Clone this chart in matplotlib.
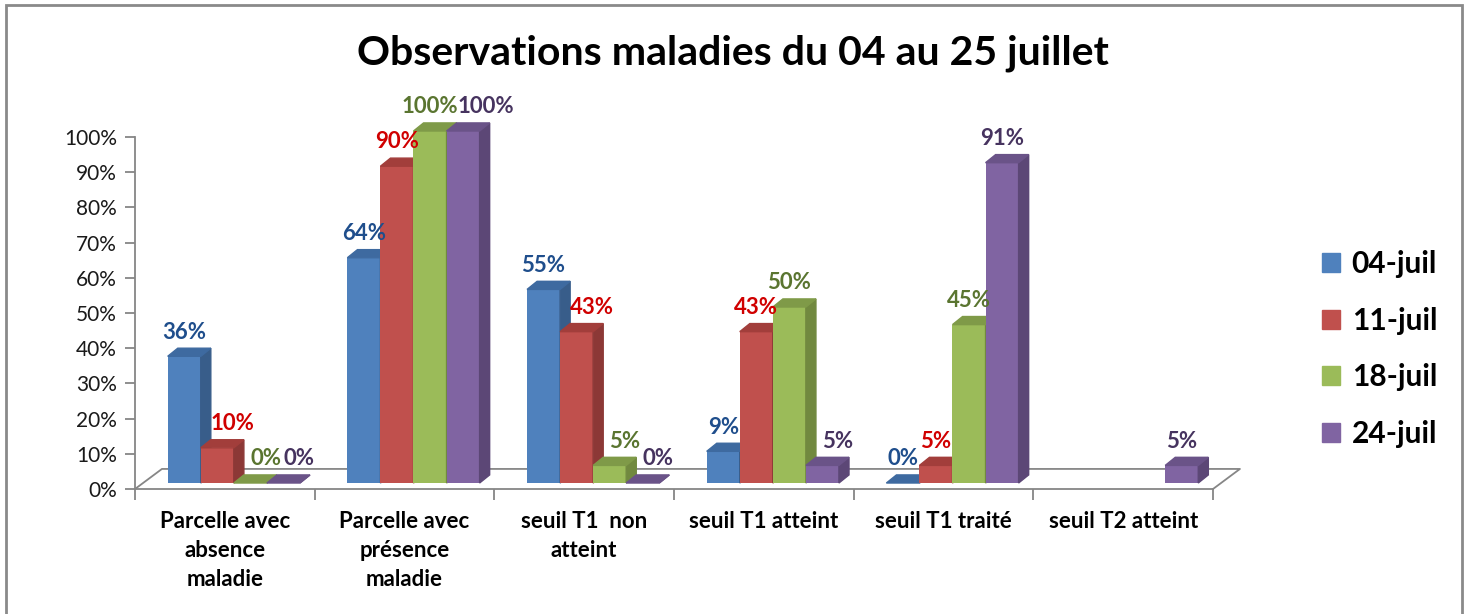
import numpy as np
import matplotlib
matplotlib.use("Agg")
import matplotlib.pyplot as plt
from matplotlib.patches import Polygon, Rectangle, Patch

plt.rcParams['font.family'] = ['Lato', 'DejaVu Sans']

categories = ["Parcelle avec\nabsence\nmaladie", "Parcelle avec\nprésence\nmaladie",
              "seuil T1  non\natteint", "seuil T1 atteint", "seuil T1 traité", "seuil T2 atteint"]
series = ["04-juil", "11-juil", "18-juil", "24-juil"]
v_0407 = [36, 64, 55, 9, 0, np.nan]
v_1107 = [10, 90, 43, 43, 5, np.nan]
v_1807 = [0, 100, 5, 50, 45, np.nan]
v_2407 = [0, 100, 0, 5, 91, 5]
values = [v_0407, v_1107, v_1807, v_2407]

face = ["#4F81BD", "#C0504D", "#9BBB59", "#8064A2"]
side = ["#385D8A", "#8C3836", "#71893F", "#5C4776"]
top = ["#3E6AA0", "#A23E3B", "#7F9A48", "#6A5388"]
lab = ["#1F4E8C", "#D00000", "#5A7530", "#46335F"]

fig = plt.figure(figsize=(14.7, 6.14), dpi=100)
W, H = 1470, 614
ax = fig.add_axes([135 / W, (H - 489) / H, (1213 - 135) / W, (489 - 137) / H])
ax.set_xlim(-0.5, 5.5)
ax.set_ylim(0, 100)

gray = "#868686"
# floor (3d base)
fdx, fdy = 0.15, 5.7
ax.plot([-0.5, -0.5 + fdx, 5.5 + fdx, 5.5], [0, fdy, fdy, 0], color=gray, lw=1.3, clip_on=False, zorder=1)

bw = 0.184
d0 = 1.7      # bars sit in the middle of the floor depth
xs = 0.05
ddx, ddy = 0.056, 2.3
x = np.arange(len(categories))
for j in range(len(series)):
    for i in range(len(categories)):
        v = values[j][i]
        if np.isnan(v):
            continue
        x0 = x[i] + xs + (j - 2) * bw
        x1 = x0 + bw
        y0, y1 = d0, d0 + v
        ax.bar(x0, v, width=bw, bottom=d0, align="edge", color=face[j], zorder=3 + i * 4 + j, clip_on=False)
        ax.add_patch(Polygon([(x1, y0), (x1 + ddx, y0 + ddy), (x1 + ddx, y1 + ddy), (x1, y1)],
                             closed=True, color=side[j], zorder=3 + i * 4 + j, clip_on=False))
        ax.add_patch(Polygon([(x0, y1), (x1, y1), (x1 + ddx, y1 + ddy), (x0 + ddx, y1 + ddy)],
                             closed=True, color=top[j], zorder=3 + i * 4 + j, clip_on=False))
        # label moves right when the bar on its left is as tall or taller
        left = values[j - 1][i] if j > 0 else np.nan
        nudge = 0.0
        if not np.isnan(left) and left >= v:
            nudge = 0.125 if (left == v and v > 50) else 0.085
        ax.text(x0 + bw / 2 + nudge, y1 + ddy + 1.6, f"{v:.0f}%", ha="center", va="bottom",
                fontsize=16, fontweight="bold", color=lab[j], zorder=50, clip_on=False)

# axes styling
for s in ["top", "right"]:
    ax.spines[s].set_visible(False)
ax.spines["left"].set_color(gray)
ax.spines["bottom"].set_color(gray)
ax.spines["left"].set_linewidth(1.3)
ax.spines["bottom"].set_linewidth(1.3)
ax.set_yticks(range(0, 101, 10))
ax.set_yticklabels([f"{t}%" for t in range(0, 101, 10)], fontsize=15, color="#1a1a1a")
ax.tick_params(axis="y", length=7, color=gray, width=1.3, pad=6)
ax.set_xticks(x)
ax.set_xticklabels(categories, fontsize=16, fontweight="bold", linespacing=1.45)
ax.tick_params(axis="x", length=0, pad=16)
ax.set_xticks(np.arange(-0.5, 6, 1), minor=True)
ax.tick_params(axis="x", which="minor", length=8, color=gray, width=1.3)

fig.text(0.5 * (358 + 1108) / W, 1 - 53 / H, "Observations maladies du 04 au 25 juillet",
         ha="center", va="center", fontsize=29.5, fontweight="bold")

handles = [Patch(color=c) for c in face]
leg = fig.legend(handles, series, loc="center left", bbox_to_anchor=(1295 / W, 1 - 349 / H),
                 frameon=False, prop={"size": 21.5, "weight": "bold"}, handlelength=0.6,
                 handleheight=0.6, handletextpad=0.4, labelspacing=0.95)

fig.patches.append(Rectangle((6 / W, -0.05), (1462 - 6) / W, 1.05 - 5 / H, transform=fig.transFigure,
                             fill=False, edgecolor="#8a8a8a", lw=2))

fig.savefig("out.png", dpi=100)
